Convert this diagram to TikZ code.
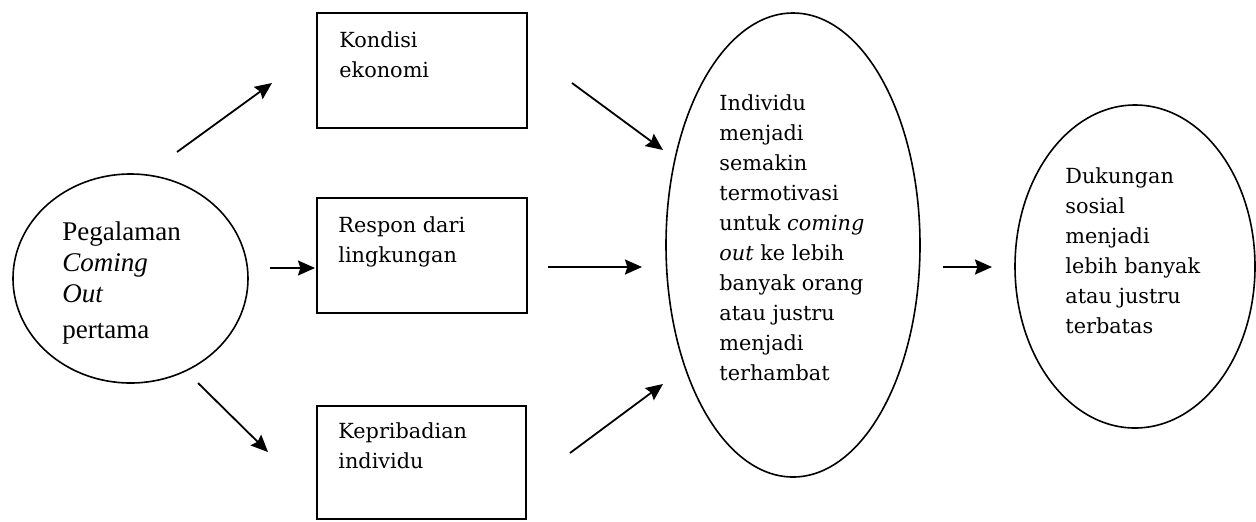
\documentclass[tikz,border=0pt]{standalone}
\usepackage{fontspec}
\setmainfont{Liberation Serif}
\newfontfamily\boxfont{DejaVu Serif}
\usetikzlibrary{shapes.geometric,arrows.meta}
\begin{document}
\begin{tikzpicture}[x=0.5pt,y=-0.5pt,
  boxshape/.style={draw,line width=1pt,rectangle,inner sep=0pt},
  ovalshape/.style={draw,line width=0.8pt,ellipse,inner sep=0pt},
  txt/.style={anchor=north west,align=left,inner sep=0pt,font=\boxfont\fontsize{10.4pt}{15pt}\selectfont},
  ltxt/.style={anchor=north west,align=left,inner sep=0pt,font=\fontsize{13.5pt}{15.5pt}\selectfont},
  arr/.style={line width=0.9pt,-{Stealth[length=8.5pt,width=7.5pt,inset=1.2pt]}}]
\useasboundingbox[fill=white] (0,0) rectangle (1256,521);
% shapes
\node[ovalshape,minimum width=117.5pt,minimum height=104.5pt] (start) at (130.5,278.5) {};
\node[boxshape,minimum width=105pt,minimum height=57.5pt] (kondisi) at (422,70.5) {};
\node[boxshape,minimum width=105pt,minimum height=57.5pt] (respon) at (422,255.5) {};
\node[boxshape,minimum width=104.5pt,minimum height=56.5pt] (pribadi) at (421.5,462.5) {};
\node[ovalshape,minimum width=127pt,minimum height=232pt] (motiv) at (793,245) {};
\node[ovalshape,minimum width=120pt,minimum height=161.5pt] (dukung) at (1135,266.5) {};
% texts
\node[ltxt] (tstart) at (62,221) {Pegalaman\\\textit{Coming}\\\textit{Out}\\[2.5pt]pertama};
\node[txt] (tkondisi) at (339,31.5) {Kondisi\\ekonomi};
\node[txt] (trespon) at (338,216.5) {Respon dari\\lingkungan};
\node[txt] (tpribadi) at (338,422.5) {Kepribadian\\individu};
\node[txt] (tmotiv) at (719,94.5) {Individu\\menjadi\\semakin\\termotivasi\\untuk \textit{coming}\\\textit{out} ke lebih\\banyak orang\\atau justru\\menjadi\\terhambat};
\node[txt] (tdukung) at (1065,167.5) {Dukungan\\sosial\\menjadi\\lebih banyak\\atau justru\\terbatas};
% arrow end points
\coordinate (a1s) at (177,152);  \coordinate (a1e) at (272,83);
\coordinate (a2s) at (270,268);  \coordinate (a2e) at (315,268);
\coordinate (a3s) at (198,383);  \coordinate (a3e) at (268,452);
\coordinate (a4s) at (572,83);   \coordinate (a4e) at (663,150);
\coordinate (a5s) at (548,267);  \coordinate (a5e) at (642,267);
\coordinate (a6s) at (570,453);  \coordinate (a6e) at (663,384);
\coordinate (a7s) at (943,267);  \coordinate (a7e) at (992,267);
\draw[arr] (a1s) -- (a1e);
\draw[arr] (a2s) -- (a2e);
\draw[arr] (a3s) -- (a3e);
\draw[arr] (a4s) -- (a4e);
\draw[arr] (a5s) -- (a5e);
\draw[arr] (a6s) -- (a6e);
\draw[arr] (a7s) -- (a7e);
\end{tikzpicture}
\end{document}
